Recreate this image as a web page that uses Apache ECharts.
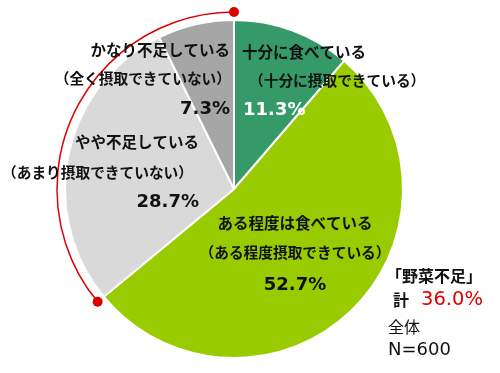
<!DOCTYPE html>
<html>
<head>
<meta charset="utf-8">
<script src="https://cdn.jsdelivr.net/npm/echarts@6/dist/echarts.min.js"></script>
<style>
html,body{margin:0;padding:0;background:#fff;}
#chart{width:500px;height:373px;}
</style>
</head>
<body>
<div id="chart"></div>
<script>
// ---- data ----
const categories = ['十分に食べている', 'ある程度は食べている', 'やや不足している', 'かなり不足している'];
const subLabels = ['（十分に摂取できている）', '（ある程度摂取できている）', '（あまり摂取できていない）', '（全く摂取できていない）'];
const values = [11.3, 52.7, 28.7, 7.3];
const shortageTitle = '「野菜不足」';
const shortagePrefix = '計';
const shortageIndices = [2, 3];
const sampleLabels = ['全体', 'N=600'];

// ---- layout / style ----
const colors = ['#359a68', '#99cc00', '#d9d9d9', '#a6a6a6'];
const pctColors = ['#ffffff', '#111111', '#111111', '#111111'];
const CX = 234, CY = 189, R = 169, ARC_R = 177;
// per category: [x, y, align] for each of 3 lines
const labelLayout = [
  [[242, 52, 'left'], [249, 80, 'left'], [243, 110, 'left']],
  [[295, 223, 'center'], [295, 252, 'center'], [295, 285, 'center']],
  [[199, 142, 'right'], [2, 172, 'left'], [199, 202, 'right']],
  [[230, 50, 'right'], [231, 78, 'right'], [230, 109, 'right']]
];
const jpFont = '"Noto Sans CJK JP", sans-serif';
const numFont = '"DejaVu Sans", sans-serif';

const chart = echarts.init(document.getElementById('chart'), null, { renderer: 'canvas' });

const graphics = [];
categories.forEach((name, i) => {
  const L = labelLayout[i];
  const texts = [name, subLabels[i], values[i].toFixed(1) + '%'];
  const sizes = [15.5, 14.7, 18];
  texts.forEach((t, j) => {
    const isPct = j === 2;
    graphics.push({
      type: 'text', z: 100,
      x: L[j][0], y: L[j][1],
      style: {
        text: t,
        fill: isPct ? pctColors[i] : '#111111',
        fontFamily: isPct ? numFont : jpFont,
        fontWeight: 'bold',
        fontSize: sizes[j],
        textAlign: L[j][2],
        textVerticalAlign: 'middle'
      }
    });
  });
});

// shortage total and arc
const shortage = shortageIndices.reduce((s, k) => s + values[k], 0);
const total = values.reduce((s, v) => s + v, 0);
const startDeg = 360 * (1 - shortage / total) - 90; // screen angle, clockwise from +x
const endDeg = 270;
const toRad = d => d * Math.PI / 180;
graphics.push({
  type: 'arc', z: 50,
  shape: { cx: CX, cy: CY, r: ARC_R, startAngle: toRad(startDeg), endAngle: toRad(endDeg), clockwise: true },
  style: { stroke: '#dd0000', lineWidth: 1.5, fill: 'none' }
});
[startDeg, endDeg].forEach(d => {
  graphics.push({
    type: 'circle', z: 51,
    shape: { cx: CX + ARC_R * Math.cos(toRad(d)), cy: CY + ARC_R * Math.sin(toRad(d)), r: 5 },
    style: { fill: '#dd0000' }
  });
});

graphics.push(
  { type: 'text', x: 386, y: 276, style: { text: shortageTitle, fill: '#111111', fontFamily: jpFont, fontWeight: 'bold', fontSize: 16, textAlign: 'left', textVerticalAlign: 'middle' } },
  { type: 'text', x: 393, y: 300, style: { text: shortagePrefix, fill: '#111111', fontFamily: jpFont, fontWeight: 'bold', fontSize: 16, textAlign: 'left', textVerticalAlign: 'middle' } },
  { type: 'text', x: 421, y: 300, style: { text: shortage.toFixed(1) + '%', fill: '#dd0000', fontFamily: numFont, fontSize: 19.5, textAlign: 'left', textVerticalAlign: 'middle' } },
  { type: 'text', x: 388, y: 327, style: { text: sampleLabels[0], fill: '#111111', fontFamily: jpFont, fontSize: 16, textAlign: 'left', textVerticalAlign: 'middle' } },
  { type: 'text', x: 388, y: 350, style: { text: sampleLabels[1], fill: '#111111', fontFamily: numFont, fontSize: 18, textAlign: 'left', textVerticalAlign: 'middle' } }
);

chart.setOption({
  animation: false,
  backgroundColor: '#ffffff',
  series: [{
    type: 'pie',
    center: [CX, CY],
    radius: [0, R],
    startAngle: 90,
    clockwise: true,
    label: { show: false },
    labelLine: { show: false },
    emphasis: { disabled: true },
    itemStyle: { borderColor: '#ffffff', borderWidth: 2 },
    data: categories.map((c, i) => ({ name: c, value: values[i], itemStyle: { color: colors[i] } }))
  }],
  graphic: graphics
});
</script>
</body>
</html>
